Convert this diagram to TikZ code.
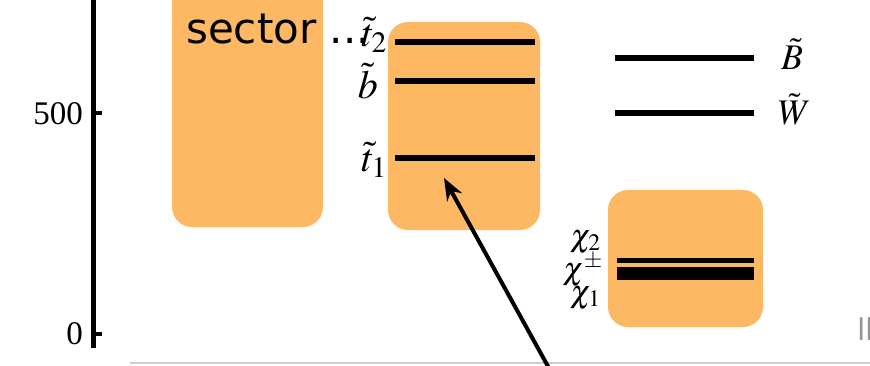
\documentclass[tikz,border=0pt]{standalone}
\usepackage{mathptmx}
\usepackage{fontspec}
\setmainfont{Liberation Serif}
\newfontfamily\dejavu{DejaVu Sans}
\usetikzlibrary{arrows.meta}
\definecolor{boxorange}{RGB}{253,184,99}
\definecolor{rulegray}{RGB}{205,205,205}
\definecolor{textgray}{RGB}{150,150,150}
\begin{document}
\begin{tikzpicture}[x=1pt,y=-1pt,
  band/.style={fill=boxorange, rounded corners=20pt},
  level/.style={line width=6.8pt, black},
  axisline/.style={line width=5pt, black},
  tickline/.style={line width=4pt, black},
  numlbl/.style={inner sep=0pt, anchor=base east, font=\fontsize{33}{36}\selectfont},
  sqlbl/.style={inner sep=0pt, anchor=base east, font=\fontsize{40}{44}\selectfont},
  gaugelbl/.style={inner sep=0pt, anchor=base west, font=\fontsize{36}{38}\selectfont},
  chilbl/.style={inner sep=0pt, anchor=base east, font=\fontsize{32}{34}\selectfont},
  pointer/.style={line width=4pt, -{Stealth[length=22pt,width=17pt]}}]
\useasboundingbox (0,0) rectangle (870,365);
\clip (0,0) rectangle (870,365);
% orange bands
\fill[band] (172,-40) rectangle (323,227);
\fill[band] (388,22) rectangle (540,230);
\fill[band] (608,190) rectangle (763,327);
% axis
\coordinate (axtop) at (93,-5);
\coordinate (axbot) at (93,348);
\coordinate (tick500a) at (91,113);
\coordinate (tick500b) at (102,113);
\coordinate (tick0a) at (91,334);
\coordinate (tick0b) at (102,334);
\draw[axisline] (axtop) -- (axbot);
\draw[tickline] (tick500a) -- (tick500b);
\draw[tickline] (tick0a) -- (tick0b);
\node[numlbl] (l500) at (83,124) {500};
\node[numlbl] (l0) at (83,344) {0};
% bottom rule
\coordinate (rulea) at (130,363);
\coordinate (ruleb) at (872,363);
\draw[rulegray, line width=1.5pt] (rulea) -- (ruleb);
% squark levels
\coordinate (t2a) at (395,42);  \coordinate (t2b) at (535,42);
\coordinate (ba) at (395,81);   \coordinate (bb) at (535,81);
\coordinate (t1a) at (395,158); \coordinate (t1b) at (535,158);
\draw[level] (t2a) -- (t2b);
\draw[level] (ba) -- (bb);
\draw[level] (t1a) -- (t1b);
\node[sqlbl] (lt2) at (387,46) {$\tilde{t}_2$};
\node[sqlbl] (lb) at (378,98) {$\tilde{b}$};
\node[sqlbl] (lt1) at (387,171) {$\tilde{t}_1$};
% gauginos
\coordinate (Ba) at (615,58);  \coordinate (Bb) at (754,58);
\coordinate (Wa) at (615,113); \coordinate (Wb) at (754,113);
\draw[level] (Ba) -- (Bb);
\draw[level] (Wa) -- (Wb);
\node[gaugelbl] (lB) at (781,69) {$\tilde{B}$};
\node[gaugelbl] (lW) at (778,124) {$\tilde{W}$};
% neutralino / chargino levels
\coordinate (c2a) at (617,260.5); \coordinate (c2b) at (754,260.5);
\coordinate (c1a) at (617,273.6); \coordinate (c1b) at (754,273.6);
\draw[line width=5.6pt] (c2a) -- (c2b);
\draw[line width=12.7pt] (c1a) -- (c1b);
\node[chilbl] (lc2) at (601,246) {$\chi_2$};
\node[chilbl] (lcpm) at (603,279) {$\chi^{\pm}$};
\node[chilbl] (lc1) at (601,302) {$\chi_1$};
% overlay text
\node[inner sep=0pt, anchor=base west, font=\dejavu\fontsize{42}{46}\selectfont] (sector) at (186,43) {sector ...};
\node[inner sep=0pt, anchor=base west, text=textgray, font=\dejavu\fontsize{30}{32}\selectfont] (edge) at (857,340) {ll};
% arrow
\coordinate (arrowtail) at (550,370);
\coordinate (arrowtip) at (444,178);
\draw[pointer] (arrowtail) -- (arrowtip);
\end{tikzpicture}
\end{document}
